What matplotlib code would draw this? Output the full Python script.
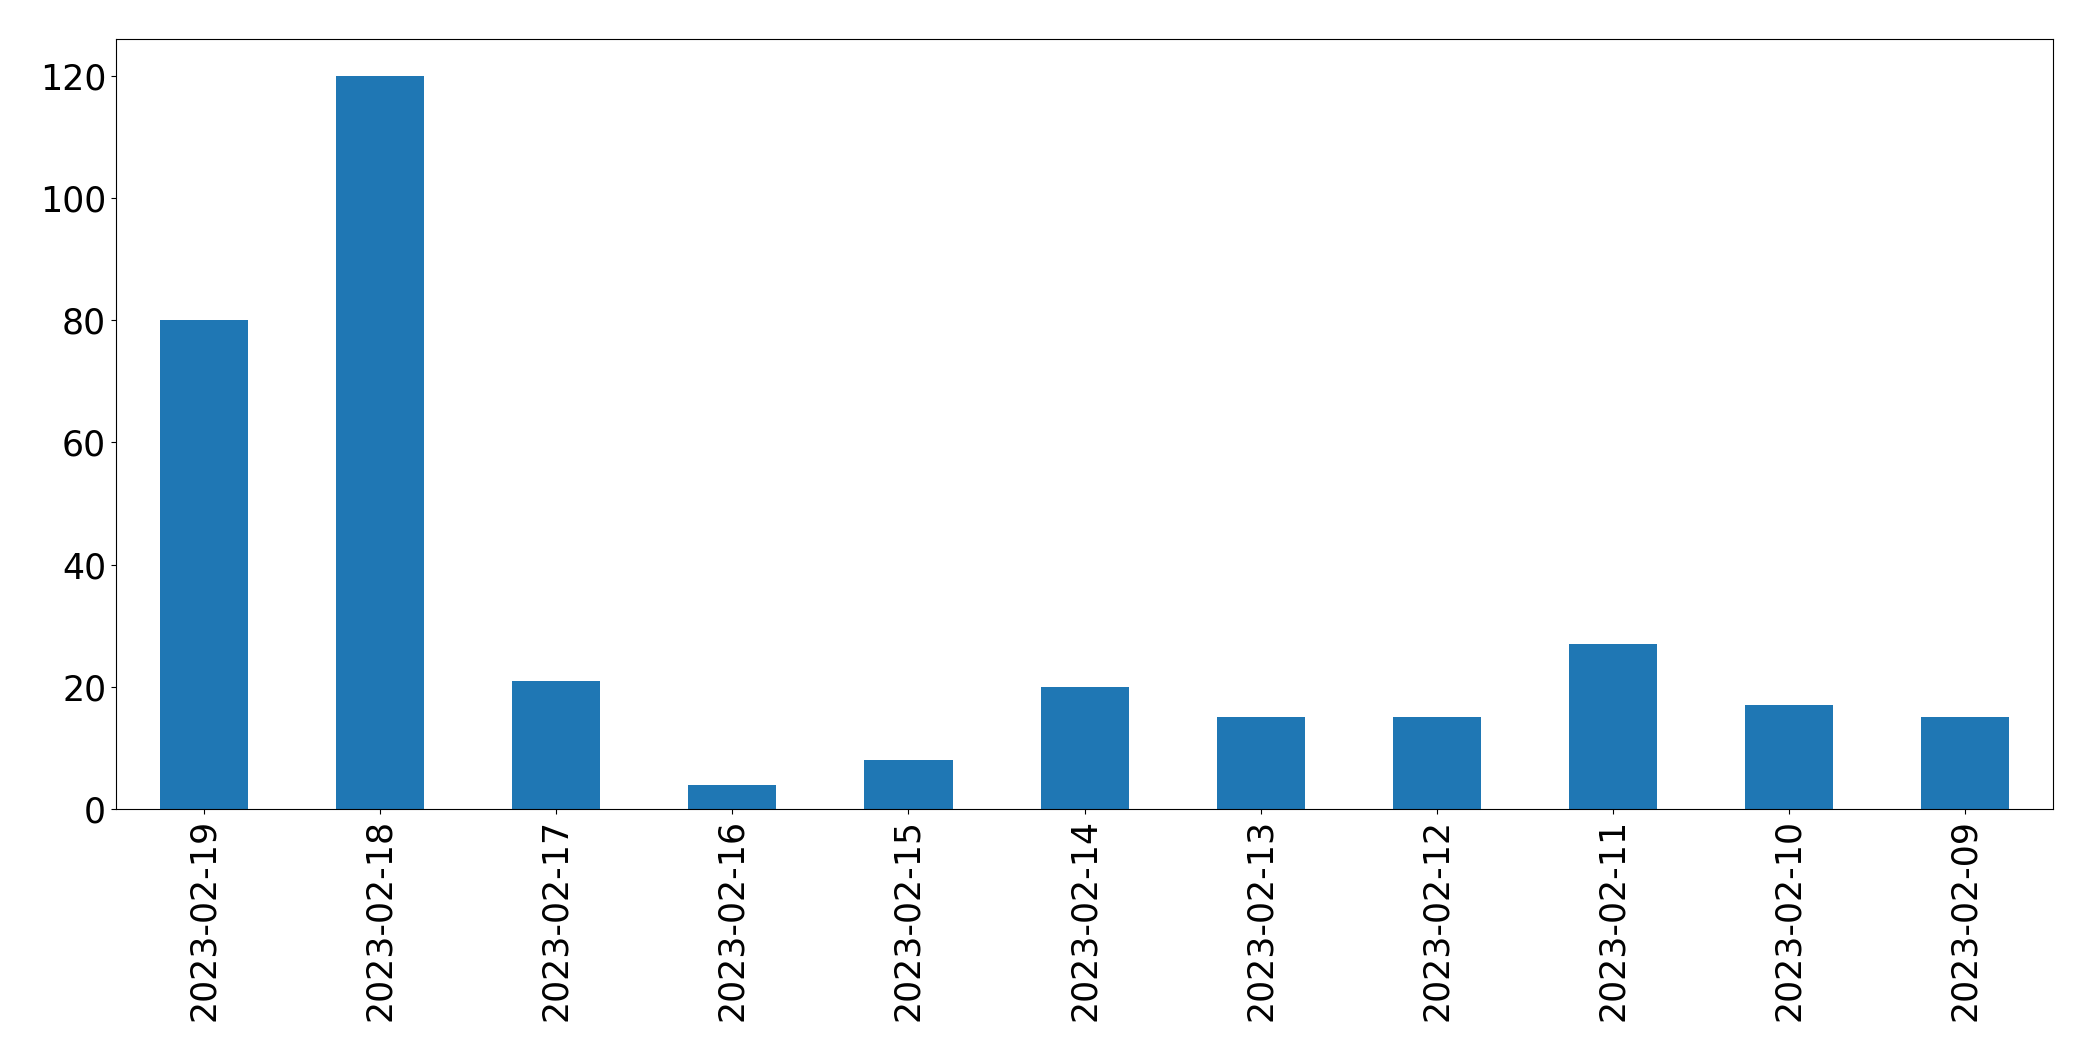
import matplotlib
matplotlib.use("Agg")
import matplotlib.pyplot as plt
import pandas as pd

dates = ["2023-02-19", "2023-02-18", "2023-02-17", "2023-02-16", "2023-02-15",
         "2023-02-14", "2023-02-13", "2023-02-12", "2023-02-11", "2023-02-10",
         "2023-02-09"]
counts = [80, 120, 21, 4, 8, 20, 15, 15, 27, 17, 15]

fig = plt.figure(figsize=(20.93, 10.61), dpi=100)
ax = fig.add_axes([0.0554, 0.2375, 0.9256, 0.7255])
s = pd.Series(counts, index=dates)
s.plot.bar(ax=ax, color="#1f77b4", fontsize=25)
ax.tick_params(axis="both", labelsize=25)
fig.savefig("out.png", dpi=100)
